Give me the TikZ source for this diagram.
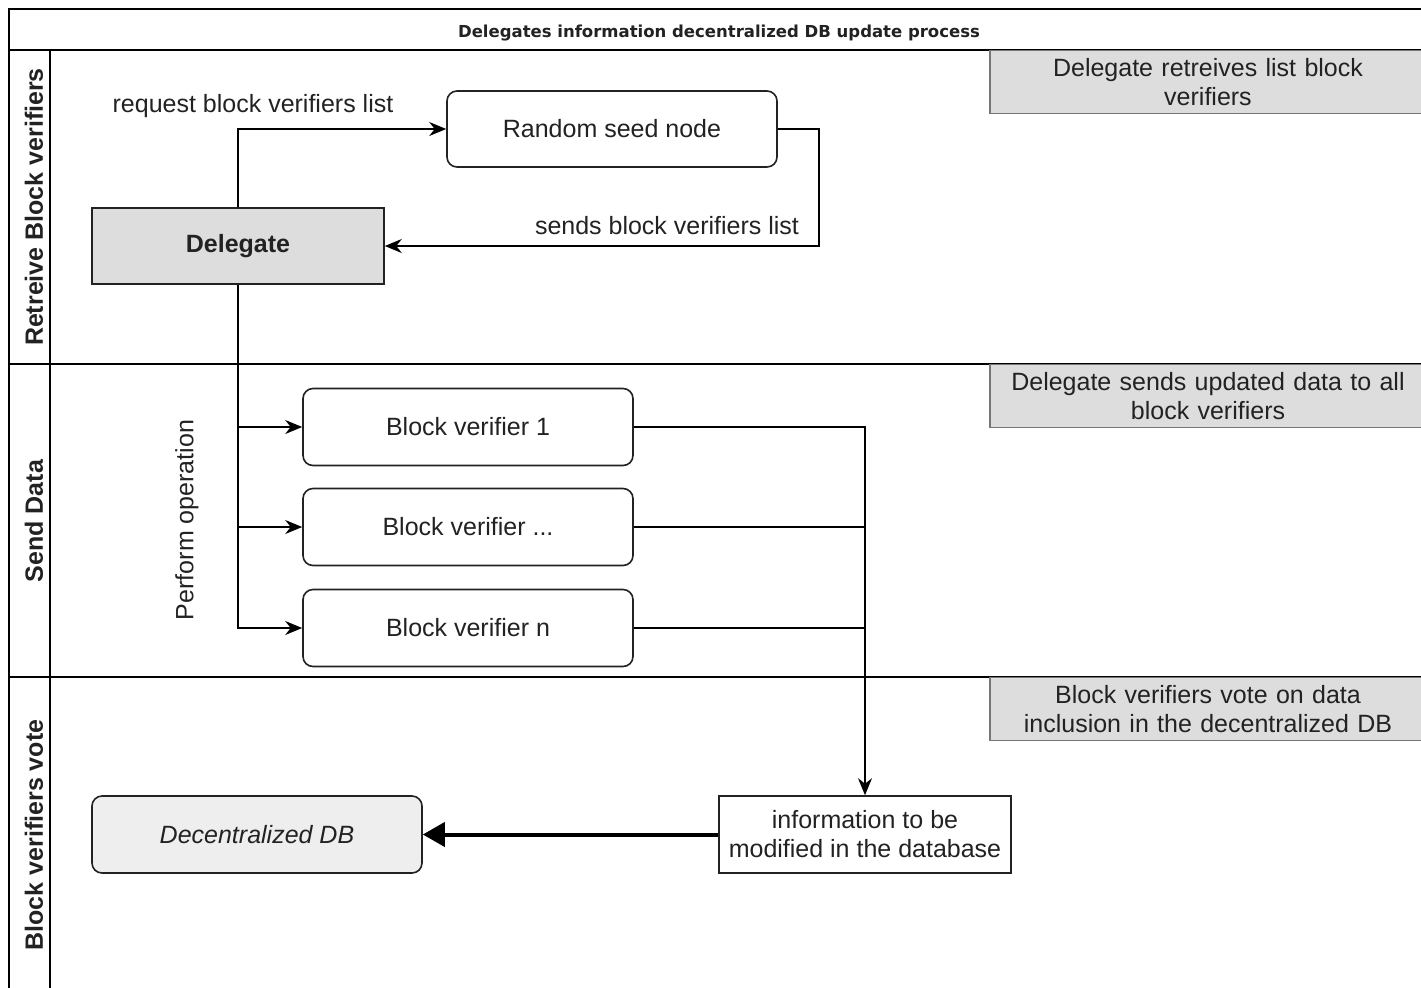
\documentclass[tikz,border=0pt]{standalone}
\usepackage{fontspec}
\setmainfont{Liberation Sans}
\newfontfamily\titlefont{DejaVu Sans}
\usetikzlibrary{arrows.meta}
\definecolor{txtgray}{HTML}{222222}
\definecolor{boxgray}{HTML}{DDDDDD}
\definecolor{dbgray}{HTML}{EEEEEE}
\definecolor{notegray}{HTML}{777777}
\begin{document}
\begin{tikzpicture}[x=0.5pt,y=-0.5pt,
    font=\fontsize{12.5}{14.5}\selectfont, text=txtgray,
    every node/.style={inner sep=1pt},
    frame/.style={line width=1.1pt, draw=black},
    stepbox/.style={draw=txtgray, line width=0.8pt, rounded corners=5pt,
      minimum width=165pt, minimum height=38.5pt, fill=white},
    plainbox/.style={draw=txtgray, line width=0.8pt,
      minimum width=146pt, minimum height=38.5pt, align=center},
    notebox/.style={draw=notegray, line width=0.8pt, fill=boxgray,
      minimum width=218pt, minimum height=31.5pt, align=center,
      text width=210pt, inner sep=0pt},
    lanelabel/.style={rotate=90, font=\fontsize{12.5}{14.5}\selectfont\bfseries},
    flow/.style={draw=black, line width=0.8pt, -{Stealth[length=8.5pt,width=7pt]}},
    bigflow/.style={draw=black, line width=2pt, -{Triangle[length=11pt,width=12pt]}}]
  \useasboundingbox (0,0) rectangle (1421,987);
  % pool frame and lanes
  \draw[frame] (9,995) -- (9,9) -- (1430,9);
  \draw[frame] (9,50) -- (1430,50);
  \draw[frame] (50,50) -- (50,995);
  \draw[frame] (9,364) -- (1430,364);
  \draw[frame] (9,677) -- (1430,677);
  \node[font=\titlefont\fontsize{8.25}{10}\selectfont\bfseries] (title) at (719,33)
    {Delegates information decentralized DB update process};
  \node[lanelabel] (laneA) at (34,207) {Retreive Block verifiers};
  \node[lanelabel] (laneB) at (34,521) {Send Data};
  \node[lanelabel] (laneC) at (34,835) {Block verifiers vote};
  % notes on the right
  \node[notebox] (noteA) at (1208,82) {Delegate retreives list block\\verifiers};
  \node[notebox] (noteB) at (1208,396) {Delegate sends updated data to all\\block verifiers};
  \node[notebox] (noteC) at (1208,709) {Block verifiers vote on data\\inclusion in the decentralized DB};
  % first lane
  \node[stepbox, minimum height=38pt] (seed) at (612,129) {Random seed node};
  \node[plainbox, fill=boxgray, minimum height=38pt, font=\fontsize{12.5}{14.5}\selectfont\bfseries]
    (delegate) at (238,246) {Delegate};
  \draw[flow] (delegate.north) |- (seed.west);
  \draw[flow] (seed.east) -- ++(41,0) |- (delegate.east);
  \node (reqlabel) at (253,106) {request block verifiers list};
  \node (sendlabel) at (667,226) {sends block verifiers list};
  % second lane
  \node[stepbox] (bv1) at (468,427) {Block verifier 1};
  \node[stepbox] (bvx) at (468,527) {Block verifier ...};
  \node[stepbox] (bvn) at (468,628) {Block verifier n};
  \foreach \bv in {bv1,bvx,bvn}
    \draw[flow] (delegate.south) |- (\bv.west);
  \node[rotate=90] (perform) at (187,520) {Perform operation};
  % third lane
  \node[plainbox] (info) at (865,834.5) {information to be\\modified in the database};
  \node[stepbox, fill=dbgray, font=\fontsize{12.5}{14.5}\selectfont\itshape]
    (db) at (257,834.5) {Decentralized DB};
  \draw[flow] (bv1.east) -| (info.north);
  \draw[line width=0.8pt] (bvx.east) -- (bvx.east -| info.north);
  \draw[line width=0.8pt] (bvn.east) -- (bvn.east -| info.north);
  \draw[bigflow] (info.west) -- (db.east);
\end{tikzpicture}
\end{document}
